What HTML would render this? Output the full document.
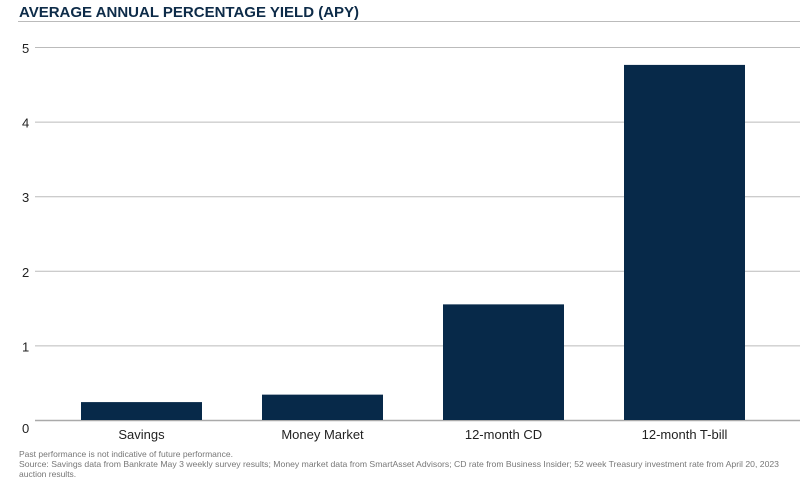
<!DOCTYPE html>
<html><head><meta charset="utf-8"><style>
body{margin:0;background:#fff;width:800px;height:480px;overflow:hidden;font-family:"Liberation Sans",sans-serif}
</style></head><body>
<svg width="800" height="480">
<text x="19" y="17" font-size="15" font-weight="bold" fill="#0d2b48">AVERAGE ANNUAL PERCENTAGE YIELD (APY)</text>
<line x1="18" y1="21.5" x2="800" y2="21.5" stroke="#bbb" stroke-width="1"/>
<g id="grid"></g><g id="bars"></g><g id="labels"></g>
<text x="19" y="457" font-size="8.5" fill="#777" textLength="214">Past performance is not indicative of future performance.</text>
<text x="19" y="467" font-size="8.5" fill="#777" textLength="760" lengthAdjust="spacingAndGlyphs">Source: Savings data from Bankrate May 3 weekly survey results; Money market data from SmartAsset Advisors; CD rate from Business Insider; 52 week Treasury investment rate from April 20, 2023</text>
<text x="19" y="477" font-size="8.5" fill="#777">auction results.</text>
</svg>
<script>
const categories=["Savings","Money Market","12-month CD","12-month T-bill"];
const values=[0.24,0.34,1.55,4.76];
const ticks=[0,1,2,3,4,5];
const NS="http://www.w3.org/2000/svg";
const y0=420,pxPer=74.6,x0=35,xEnd=800,bandStart=51,band=181,barW=121;
const y=v=>y0-v*pxPer;
const x=i=>bandStart+i*band+(band-barW)/2;
const g=document.getElementById("grid"),b=document.getElementById("bars"),l=document.getElementById("labels");
function mk(tag,attrs,parent,txt){const e=document.createElementNS(NS,tag);for(const k in attrs)e.setAttribute(k,attrs[k]);if(txt!==undefined)e.textContent=txt;parent.appendChild(e);return e;}
ticks.forEach(t=>{
 const ln=mk("line",{x1:x0,x2:xEnd,y1:y(t)+0.5,y2:y(t)+0.5,stroke:t===0?"#aaa":"#bbb","stroke-width":t===0?1.5:1},g);
 
 
 const tx=mk("text",{x:22,y:y(t)+(t===0?13:6),"font-size":13,fill:"#222"},g,String(t));
 
 
});
categories.forEach((c,i)=>{
 const r=mk("rect",{x:x(i),y:y(values[i]),width:barW,height:y0-y(values[i]),fill:"#072949"},b);
 
 
 const t=mk("text",{x:x(i)+barW/2,y:439,"font-size":13,fill:"#222","text-anchor":"middle"},l,c);
 
 
});
</script>
</body></html>
